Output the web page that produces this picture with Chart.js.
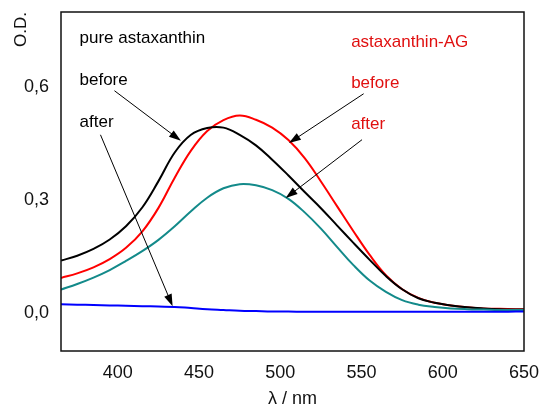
<!DOCTYPE html>
<html>
<head>
<meta charset="utf-8">
<script src="https://cdn.jsdelivr.net/npm/chart.js@4.4.1/dist/chart.umd.min.js"></script>
<style>
    html, body { margin: 0; padding: 0; background: #fff; }
    #wrap { width: 545px; height: 408px; }
</style>
</head>
<body>
<div id="wrap"><canvas id="spectra" width="545" height="408"></canvas></div>
<script>
// wavelength grid (nm)
const wavelengths = [365, 375, 385, 395, 405, 415, 425, 435, 445, 455, 465, 475, 485, 495, 505,
    515, 525, 535, 545, 555, 565, 575, 585, 595, 605, 615, 625, 635, 645, 650];

// O.D. values
const pureBefore = [0.140, 0.153, 0.171, 0.196, 0.231, 0.281, 0.351, 0.427, 0.474, 0.492, 0.493, 0.474, 0.446, 0.408, 0.366,
    0.322, 0.279, 0.233, 0.187, 0.142, 0.099, 0.064, 0.040, 0.028, 0.021, 0.016, 0.013, 0.011, 0.010, 0.010];
const agBefore = [0.094, 0.106, 0.122, 0.144, 0.174, 0.217, 0.280, 0.360, 0.432, 0.484, 0.513, 0.525, 0.514, 0.493, 0.460,
    0.412, 0.350, 0.284, 0.218, 0.155, 0.101, 0.064, 0.041, 0.028, 0.021, 0.016, 0.013, 0.012, 0.011, 0.011];
const agAfter = [0.063, 0.078, 0.095, 0.115, 0.139, 0.165, 0.195, 0.231, 0.271, 0.307, 0.332, 0.343, 0.340, 0.327, 0.304,
    0.268, 0.225, 0.176, 0.128, 0.087, 0.057, 0.035, 0.023, 0.017, 0.013, 0.011, 0.010, 0.009, 0.009, 0.009];
const pureAfter = [0.024, 0.023, 0.022, 0.021, 0.020, 0.019, 0.018, 0.017, 0.014, 0.011, 0.009, 0.007, 0.006, 0.005, 0.005,
    0.004, 0.004, 0.004, 0.004, 0.004, 0.004, 0.004, 0.004, 0.004, 0.004, 0.004, 0.004, 0.004, 0.005, 0.005];

const xTicks = [400, 450, 500, 550, 600, 650];
const yTicks = [0, 0.3, 0.6];

// annotation texts and arrows, in data units
const labels = [
    { text: "pure astaxanthin", x: 376.4, y: 0.729, color: "#000" },
    { text: "before", x: 376.4, y: 0.619, color: "#000" },
    { text: "after", x: 376.4, y: 0.508, color: "#000" },
    { text: "astaxanthin-AG", x: 543.6, y: 0.720, color: "#e01010" },
    { text: "before", x: 543.6, y: 0.611, color: "#e01010" },
    { text: "after", x: 543.6, y: 0.501, color: "#e01010" }
];
const arrows = [
    { from: [397.9, 0.591], to: [438.8, 0.458] },
    { from: [389.3, 0.474], to: [433.7, 0.019] },
    { from: [551.3, 0.583], to: [505.3, 0.452] },
    { from: [550.3, 0.461], to: [503.3, 0.306] }
];

function series(values) {
    return wavelengths.map((w, i) => ({ x: w, y: values[i] }));
}

function line(values, color) {
    return {
        data: series(values),
        borderColor: color,
        borderWidth: 2,
        pointRadius: 0,
        tension: 0.4,
        fill: false
    };
}

const overlay = {
    id: "overlay",
    afterDatasetsDraw(chart) {
        const ctx = chart.ctx;
        const xs = chart.scales.x;
        const ys = chart.scales.y;
        const area = chart.chartArea;

        ctx.save();
        arrows.forEach(a => {
            const x1 = xs.getPixelForValue(a.from[0]), y1 = ys.getPixelForValue(a.from[1]);
            const x2 = xs.getPixelForValue(a.to[0]), y2 = ys.getPixelForValue(a.to[1]);
            const ang = Math.atan2(y2 - y1, x2 - x1);
            const len = 12, half = 4;
            ctx.strokeStyle = "#000";
            ctx.lineWidth = 1;
            ctx.beginPath();
            ctx.moveTo(x1, y1);
            ctx.lineTo(x2 - Math.cos(ang) * len * 0.8, y2 - Math.sin(ang) * len * 0.8);
            ctx.stroke();
            ctx.fillStyle = "#000";
            ctx.beginPath();
            ctx.moveTo(x2, y2);
            ctx.lineTo(x2 - Math.cos(ang) * len - Math.sin(ang) * half, y2 - Math.sin(ang) * len + Math.cos(ang) * half);
            ctx.lineTo(x2 - Math.cos(ang) * len + Math.sin(ang) * half, y2 - Math.sin(ang) * len - Math.cos(ang) * half);
            ctx.closePath();
            ctx.fill();
        });

        ctx.font = "17px 'Liberation Sans', Arial, sans-serif";
        ctx.textAlign = "left";
        ctx.textBaseline = "middle";
        labels.forEach(l => {
            ctx.fillStyle = l.color;
            ctx.fillText(l.text, xs.getPixelForValue(l.x), ys.getPixelForValue(l.y));
        });

        ctx.strokeStyle = "#111";
        ctx.lineWidth = 1.5;
        ctx.strokeRect(area.left, area.top, area.right - area.left, area.bottom - area.top);
        ctx.restore();
    }
};

const tickFont = { family: "'Liberation Sans', Arial, sans-serif", size: 18 };

new Chart(document.getElementById("spectra"), {
    type: "line",
    data: {
        datasets: [
            line(pureAfter, "#0000ff"),
            line(agAfter, "#138a8a"),
            line(pureBefore, "#000000"),
            line(agBefore, "#ff0000")
        ]
    },
    options: {
        responsive: false,
        animation: false,
        layout: { padding: { left: 0, top: 12, right: 21, bottom: 0 } },
        plugins: { legend: { display: false }, tooltip: { enabled: false } },
        scales: {
            x: {
                type: "linear",
                min: 365,
                max: 650,
                grid: { display: false, drawTicks: false },
                border: { display: false },
                afterBuildTicks: s => { s.ticks = xTicks.map(v => ({ value: v })); },
                afterFit: s => { s.height = 57; s.paddingLeft = 0; s.paddingRight = 0; },
                ticks: { color: "#111", font: tickFont, padding: 11, maxRotation: 0 },
                title: {
                    display: true,
                    text: "λ / nm",
                    color: "#111",
                    font: { family: "'Liberation Sans', Arial, sans-serif", size: 18, lineHeight: 1 },
                    padding: 0
                }
            },
            y: {
                min: -0.1,
                max: 0.8,
                grid: { display: false, drawTicks: false },
                border: { display: false },
                afterBuildTicks: s => { s.ticks = yTicks.map(v => ({ value: v })); },
                afterFit: s => { s.width = 61; s.paddingTop = 0; s.paddingBottom = 0; },
                ticks: {
                    color: "#111",
                    font: tickFont,
                    padding: 12,
                    callback: v => v.toFixed(1).replace(".", ",")
                },
                title: {
                    display: true,
                    text: "O.D.",
                    align: "end",
                    color: "#111",
                    font: { family: "'Liberation Sans', Arial, sans-serif", size: 17, lineHeight: 1.2 },
                    padding: { top: 11, bottom: 0 }
                }
            }
        }
    },
    plugins: [overlay]
});
</script>
</body>
</html>
